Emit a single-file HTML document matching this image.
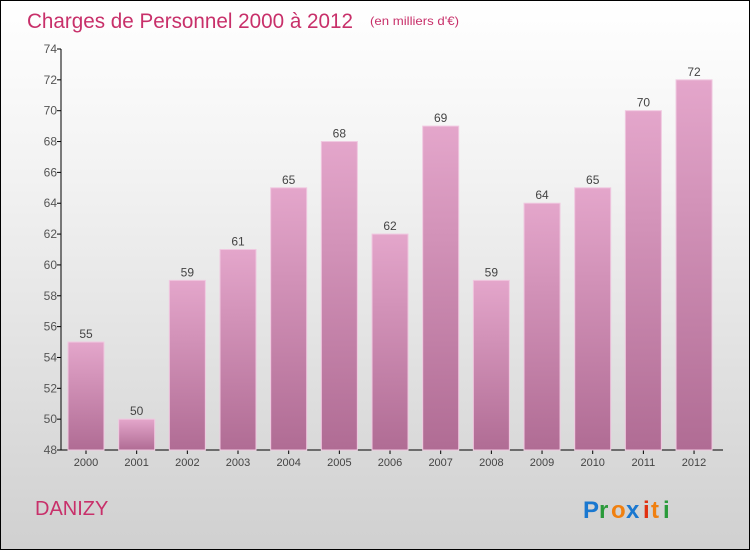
<!DOCTYPE html>
<html><head><meta charset="utf-8"><style>
body{margin:0}
#c{width:748px;height:548px;border:1px solid #000;position:relative;background:linear-gradient(#fff,#f3f3f3 30%,#d0d0d0);font-family:"Liberation Sans",sans-serif;overflow:hidden}
</style></head><body>
<div id="c">
<svg width="748" height="548" id="s">
<defs><linearGradient id="g" x1="0" y1="0" x2="0" y2="1"><stop offset="0" stop-color="#e4a6cb"/><stop offset="1" stop-color="#b06c94"/></linearGradient></defs>
<text x="26" y="27" font-size="21" fill="#c8306a" textLength="326" lengthAdjust="spacingAndGlyphs">Charges de Personnel 2000 à 2012</text>
<text x="369" y="24" font-size="12" fill="#c8306a" textLength="89" lengthAdjust="spacingAndGlyphs">(en milliers d'€)</text>
<text x="34" y="514" font-size="20" fill="#c8306a">DANIZY</text>
<g font-size="24" font-weight="bold">
<text x="582" y="517" fill="#1a78d0">P</text><text x="598" y="517" fill="#2a9a3a">r</text><text x="610" y="517" fill="#f08010">o</text><text x="625" y="517" fill="#1a78d0">x</text><text x="642" y="517" fill="#e03010">i</text><text x="650" y="517" fill="#f08010">t</text><text x="662" y="517" fill="#2a9a3a">i</text></g>
<g id="ax"></g><g id="bars"></g>
</svg></div>
<script>
const years=["2000","2001","2002","2003","2004","2005","2006","2007","2008","2009","2010","2011","2012"];
const values=[55,50,59,61,65,68,62,69,59,64,65,70,72];
const yTicks=[48,50,52,54,56,58,60,62,64,66,68,70,72,74];
const NS="http://www.w3.org/2000/svg";
const y0=449,y1=48,vmin=48,vmax=74,x0=60,step=50.67,bw=36;
const Y=v=>y0-(v-vmin)*(y0-y1)/(vmax-vmin);
const X=i=>x0+25+i*step;
function mk(t,a,p){const e=document.createElementNS(NS,t);for(const k in a)e.setAttribute(k,a[k]);p.appendChild(e);return e;}
const ax=document.getElementById('ax'),bars=document.getElementById('bars');
const yl=mk('line',{x1:x0,x2:x0,y1:y1,y2:y0,stroke:'#000'},ax);


const xl=mk('line',{x1:x0,x2:722,y1:y0,y2:y0,stroke:'#000'},ax);


yTicks.forEach(v=>{
 mk('line',{x1:x0-4,x2:x0,y1:Y(v),y2:Y(v),stroke:'#000'},ax);
 const t=mk('text',{x:x0-4,y:Y(v)+4,'font-size':12,fill:'#555','text-anchor':'end'},ax);t.textContent=v;
 
 
});
years.forEach((yr,i)=>{
 const cx=X(i),v=values[i];
 const r=mk('rect',{x:cx-bw/2,y:Y(v),width:bw,height:y0-Y(v),fill:'url(#g)',stroke:'#f0c8e0','stroke-width':1},bars);
 
 
 const l=mk('text',{x:cx,y:Y(v)-4,'font-size':12,fill:'#444','text-anchor':'middle'},bars);l.textContent=v;
 
 
 mk('line',{x1:cx,x2:cx,y1:y0,y2:y0+4,stroke:'#000'},ax);
 const t=mk('text',{x:cx,y:y0+16,'font-size':11,fill:'#444','text-anchor':'middle'},ax);t.textContent=yr;
 
 
});
</script>
</body></html>
